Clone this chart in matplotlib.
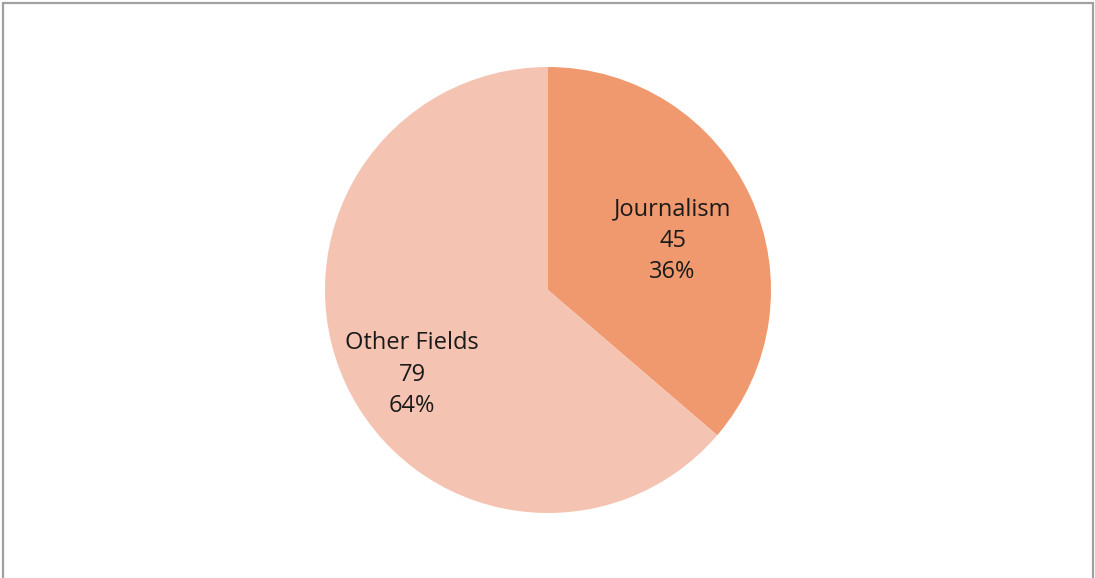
import matplotlib as mpl
mpl.use('Agg')
import matplotlib.pyplot as plt
from matplotlib.patches import Rectangle
import numpy as np

# Donnees du graphique
categories = ['Journalism', 'Other Fields']
valeurs = [45, 79]
couleurs = ['#F0996F', '#F5C3B1']

# Position des etiquettes dans chaque part (rayon, decalage vertical)
rayons_etiquettes = [0.615, 0.67]
decalages_y = [-0.035, -0.10]

fig = plt.figure(figsize=(10.95, 5.78), dpi=100)
fig.patch.set_facecolor('white')

# Cadre gris autour du graphique
cadre = Rectangle((2.5 / 1095, -0.05), 1090.5 / 1095, 1 + 0.05 - 2.5 / 578,
                  transform=fig.transFigure, fill=False,
                  edgecolor='#A0A0A0', linewidth=1.6)
fig.patches.append(cadre)

ax = fig.add_axes([325 / 1095, 65 / 578, 446 / 1095, 446 / 578])
wedges, _ = ax.pie(valeurs, colors=couleurs, startangle=90, counterclock=False,
                   radius=1, wedgeprops=dict(linewidth=0))
ax.set_xlim(-1, 1)
ax.set_ylim(-1, 1)
ax.set_aspect('equal')
ax.axis('off')

# Etiquettes : nom, valeur, pourcentage
total = sum(valeurs)
for w, nom, v, r, dy in zip(wedges, categories, valeurs, rayons_etiquettes, decalages_y):
    milieu = np.deg2rad((w.theta1 + w.theta2) / 2)
    x = r * np.cos(milieu)
    y = r * np.sin(milieu) + dy
    texte = f"{nom}\n{v}\n{round(100 * v / total)}%"
    ax.text(x, y, texte, ha='center', va='center', fontsize=17,
            family='Open Sans', color='#1A1A1A', linespacing=1.4)

fig.savefig('out.png')
